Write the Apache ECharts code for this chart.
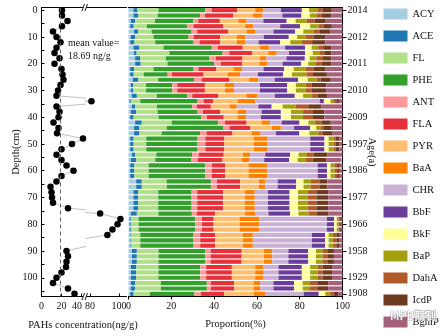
<!DOCTYPE html>
<html><head><meta charset="utf-8">
<script src="https://cdn.jsdelivr.net/npm/echarts@6/dist/echarts.min.js"></script>
<style>html,body{margin:0;padding:0;background:#fff}#c{width:448px;height:336px}</style>
</head><body><div id="c"></div>
<script>
// ---------- data ----------
const depths = [0,2,4,6,8,10,12,14,16,18,20,22,24,26,28,30,32,34,36,38,40,42,44,46,48,50,52,54,56,58,60,62,64,66,68,70,72,74,76,78,80,82,84,86,88,90,92,94,96,98,100,102,104,106];
const concentration = [20.5,20.5,26,20.5,11.5,15,19,15,13,18,
 13,20,21,22,19,16.5,15,81,15,18,
 17,12,17,15.5,41.5,30.5,20,15,20,25,
 32,20,15,9,10,10.5,11.5,26.5,87,101,
 99,95.5,92,null,null,25,26.5,25,24.5,20,
 15,11.5,26.5,33];
const meanValue = 18.69;
const depthTicks = [0,5,10,15,20,25,30,35,40,45,50,55,60,65,70,75,80,85,90,95,100,105];
const depthLabels = [0,10,20,30,40,50,60,70,80,90,100];
const lowTicks = [0,20,40];
const highTicks = [80,100];
const ageDepths = [0,10,20,30,40,50,60,70,80,90,100,106];
const ageLabels = ['2014','2012','2011','2010','2009','1997','1986','1977','1966','1958','1929','1908'];
const compounds = ['ACY','ACE','FL','PHE','ANT','FLA','PYR','BaA','CHR','BbF','BkF','BaP','DahA','IcdP','BghiP'];

const ACY = [2.3,2.3,1.1,0.8,2.6,1.1,0.8,2.3,2.6,3.1,3.1,0.8,0.8,2.0,1.1,1.1,1.6,0.5,1.6,1.1,0.8,3.1,2.6,2.6,0.8,0.8,0.8,1.6,1.1,0.8,0.8,0.8,3.6,3.6,2.3,2.3,2.3,2.3,1.1,0.5,0.5,0.5,0.8,0.8,0.8,1.6,1.6,1.6,1.1,1.1,1.1,1.1,1.1,0.8];
const ACE = [1.9,2.3,2.0,1.6,2.0,2.0,2.0,2.8,1.2,2.3,2.6,1.9,1.6,2.6,1.2,1.2,2.3,0.6,1.6,2.5,1.6,3.1,2.5,2.5,1.6,1.6,1.6,1.6,2.5,1.9,1.9,1.9,2.6,2.6,2.3,2.3,2.3,2.3,2.8,0.6,0.6,0.6,0.3,0.3,0.3,2.3,2.3,2.3,2.5,2.5,2.5,2.0,2.0,1.6];
const FL = [9.8,9.0,9.3,6.2,6.2,8.6,9.7,11.2,15.3,12.1,12.5,9.0,4.7,9.3,5.9,5.9,9.3,4.4,10.1,10.0,11.7,14.0,12.8,10.4,5.9,5.9,5.9,9.8,8.9,6.7,6.7,6.7,11.7,11.7,9.3,9.3,9.3,9.3,10.1,3.6,3.6,3.6,4.4,4.4,4.4,10.1,10.1,10.1,10.4,10.4,10.4,12.0,12.0,7.5];
const PHE = [21.8,19.8,17.9,18.7,18.7,16.4,17.9,22.6,24.9,20.2,21.8,18.7,11.2,16.7,12.3,12.3,14.3,26.8,16.4,18.7,19.8,21.8,26.5,17.9,24.0,24.0,24.0,16.7,16.7,26.5,26.5,26.5,20.6,20.6,15.6,15.6,15.6,15.6,15.6,26.5,26.5,26.5,24.9,24.9,24.9,21.8,21.8,21.8,19.5,19.5,19.5,21.5,21.5,20.9];
const ANT = [3.1,2.3,2.3,3.1,2.6,2.3,2.8,2.8,3.1,3.1,3.1,2.3,2.0,3.6,2.3,2.3,2.3,2.8,2.3,2.5,2.8,3.1,2.8,3.1,3.6,3.6,3.6,3.1,3.1,3.1,3.1,3.1,2.8,2.8,2.6,2.6,2.6,2.6,2.3,3.1,3.1,3.1,3.1,3.1,3.1,2.6,2.6,2.6,2.8,2.8,2.8,1.9,1.9,3.1];
const FLA = [12.0,13.2,10.1,14.0,14.5,12.5,9.7,11.7,10.7,12.5,10.1,8.3,14.8,12.9,12.9,12.9,12.1,4.4,6.5,8.1,7.8,10.1,9.7,12.1,8.9,8.9,8.9,11.7,11.7,6.2,6.2,6.2,10.9,10.9,12.1,12.1,12.1,12.1,8.6,5.5,5.5,5.5,7.0,7.0,7.0,14.5,14.5,14.5,12.0,12.0,12.0,10.9,10.9,10.9];
const PYR = [8.3,9.3,8.6,10.1,8.6,7.8,7.8,8.1,7.5,8.1,7.9,8.1,11.2,9.3,9.3,9.3,13.2,11.5,8.7,8.1,6.5,7.0,10.1,8.9,13.7,13.7,13.7,9.0,9.0,10.9,10.9,10.9,8.6,8.6,10.1,10.1,10.1,10.1,14.0,12.1,12.1,12.1,12.9,12.9,12.9,10.4,10.4,10.4,10.9,10.9,10.9,9.0,9.0,13.7];
const BaA = [3.9,4.4,3.9,3.9,3.9,3.9,3.9,4.2,3.9,3.1,3.7,3.9,5.9,4.2,4.4,4.4,5.0,8.3,3.4,4.0,4.0,3.9,4.2,4.2,6.5,6.5,6.5,3.4,3.4,8.6,8.6,8.6,3.1,3.1,4.7,4.7,4.7,4.7,4.7,9.3,9.3,9.3,4.7,4.7,4.7,3.9,3.9,3.9,3.9,3.9,3.9,3.1,3.1,5.5];
const CHR = [8.1,9.3,7.8,12.5,8.6,8.6,6.2,7.5,5.8,9.3,7.2,10.1,8.3,7.8,12.0,12.0,8.3,30.1,10.1,7.3,6.9,5.5,6.2,7.2,19.9,19.9,19.9,7.0,7.0,23.7,23.7,23.7,5.8,5.8,6.2,6.2,6.2,6.2,6.2,31.5,31.5,31.5,27.6,27.6,27.6,7.5,7.5,7.5,7.0,7.0,7.0,6.2,6.2,17.9];
const BbF = [9.8,8.9,10.9,9.3,10.1,11.7,10.1,9.3,7.5,8.6,8.6,9.7,11.7,10.9,12.8,12.8,9.3,1.9,6.2,8.9,9.3,8.3,7.5,10.9,6.7,6.7,6.7,11.7,11.7,4.4,4.4,4.4,8.7,8.7,10.1,10.1,10.1,10.1,10.1,3.4,3.4,3.4,6.2,6.2,6.2,9.3,9.3,9.3,10.9,10.9,10.9,9.7,9.7,7.0];
const BkF = [3.4,3.9,4.2,4.7,3.9,3.9,4.7,3.1,3.6,2.3,3.4,4.4,4.2,4.4,4.0,4.0,3.9,3.1,5.1,4.7,4.7,4.2,2.8,4.7,1.9,1.9,1.9,3.9,3.9,1.6,1.6,1.6,3.4,3.4,3.9,3.9,3.9,3.9,3.9,1.2,1.2,1.2,1.6,1.6,1.6,3.6,3.6,3.6,3.9,3.9,3.9,4.0,4.0,3.1];
const BaP = [3.9,3.1,5.1,3.9,4.7,3.9,5.5,3.1,3.4,3.1,3.6,5.5,6.7,4.2,4.5,4.5,4.2,1.6,6.2,5.6,5.6,3.1,2.2,4.2,2.3,2.3,2.3,3.9,3.9,1.9,1.9,1.9,3.4,3.4,4.7,4.7,4.7,4.7,4.7,0.8,0.8,0.8,2.0,2.0,2.0,3.1,3.1,3.1,3.6,3.6,3.6,3.1,3.1,2.3];
const DahA = [2.3,2.6,3.9,2.3,3.1,3.9,4.7,2.3,2.0,3.1,2.6,3.9,3.1,1.9,2.8,2.8,2.5,1.1,5.8,4.7,4.7,3.1,1.2,2.0,1.1,1.1,1.1,3.1,3.1,1.2,1.2,1.2,4.0,4.0,3.9,3.9,3.9,3.9,3.9,0.8,0.8,0.8,1.6,1.6,1.6,2.2,2.2,2.2,2.2,2.2,2.2,3.7,3.7,1.6];
const IcdP = [4.4,4.4,5.1,3.9,4.7,5.5,6.2,3.9,3.4,3.9,4.7,5.5,6.5,4.7,7.0,7.0,4.5,1.2,6.2,5.3,5.3,4.2,3.9,4.7,1.7,1.7,1.7,6.5,6.5,1.2,1.2,1.2,3.7,3.7,5.5,5.5,5.5,5.5,5.5,0.8,0.8,0.8,1.6,1.6,1.6,3.1,3.1,3.1,4.4,4.4,4.4,5.1,5.1,2.0];
const BghiP = [5.0,5.0,7.6,5.0,5.8,8.1,8.1,5.0,5.0,5.0,5.0,8.1,7.3,5.5,7.3,7.3,7.0,1.9,9.7,8.6,8.6,5.5,5.0,4.5,1.4,1.4,1.4,7.0,7.0,1.4,1.4,1.4,7.0,7.0,6.5,6.5,6.5,6.5,6.5,0.3,0.3,0.3,1.4,1.4,1.4,3.9,3.9,3.9,5.0,5.0,5.0,6.5,6.5,2.2];

// ---------- styling ----------
const FONT = '"Liberation Serif","Times New Roman",serif';
const palette = ['#a6cee3','#1f78b4','#b2df8a','#33a02c','#fb9a99','#e6303a','#fdbf6f','#ff7f00','#cab2d6','#6a3d9a','#ffff99','#a3a10e','#b15928','#6e3a1f','#a5617c'];
const seriesValues = [ACY,ACE,FL,PHE,ANT,FLA,PYR,BaA,CHR,BbF,BkF,BaP,DahA,IcdP,BghiP];

const points = depths.map((d,i)=>[concentration[i], d]).filter(p=>p[0]!==null);

const lbl = {fontFamily:FONT, fontSize:10, color:'#111'};
const blackLine = {show:true, onZero:false, lineStyle:{color:'#000', width:1}};
const topAxis = (g, mn, mx) => ({gridIndex:g, type:'value', min:mn, max:mx, position:'top',
  axisLine:blackLine, axisTick:{show:false}, axisLabel:{show:false}, splitLine:{show:false}});

const chart = echarts.init(document.getElementById('c'), null, {renderer:'canvas'});
chart.setOption({
  animation:false,
  backgroundColor:'#fff',
  textStyle:{fontFamily:FONT},
  grid:[
    {left:41.5, top:7.5, width:43, height:289, containLabel:false, outerBoundsMode:'none'},
    {left:85.5, top:7.5, width:41, height:289, containLabel:false, outerBoundsMode:'none'},
    {left:128.5, top:7.5, width:214, height:289, containLabel:false, outerBoundsMode:'none'}
  ],
  xAxis:[
    {gridIndex:0, type:'value', min:0, max:43, position:'bottom', axisLine:blackLine,
     axisTick:{show:true, inside:true, length:3, customValues:lowTicks, lineStyle:{color:'#000'}},
     axisLabel:Object.assign({customValues:lowTicks, margin:5,
       formatter:v => v === 40 ? '{s|40}' : String(v),
       rich:{s:{fontFamily:FONT, fontSize:10, color:'#111', padding:[0,9,0,0]}}}, lbl),
     splitLine:{show:false}},
    topAxis(0,0,43),
    {gridIndex:1, type:'value', min:76.9, max:105.2, position:'bottom', axisLine:blackLine,
     axisTick:{show:true, inside:true, length:3, customValues:highTicks, lineStyle:{color:'#000'}},
     axisLabel:Object.assign({customValues:highTicks, margin:5}, lbl), splitLine:{show:false}},
    topAxis(1,76.9,105.2),
    {gridIndex:2, type:'value', min:0, max:100, interval:20, position:'bottom', axisLine:blackLine,
     axisTick:{show:true, inside:false, length:3, lineStyle:{color:'#000'}},
     axisLabel:Object.assign({margin:5}, lbl), splitLine:{show:false},
     name:'Proportion(%)', nameLocation:'middle', nameGap:22, nameMoveOverlap:false,
     nameTextStyle:{fontFamily:FONT, fontSize:10.5, color:'#111'}},
    topAxis(2,0,100)
  ],
  yAxis:[
    {gridIndex:0, type:'value', min:-1, max:107, inverse:true, position:'left', axisLine:blackLine,
     axisTick:{show:true, inside:true, length:3, customValues:depthTicks, lineStyle:{color:'#000'}},
     axisLabel:Object.assign({customValues:depthLabels, margin:4}, lbl), splitLine:{show:false},
     name:'Depth(cm)', nameLocation:'middle', nameRotate:90, nameGap:20, nameMoveOverlap:false,
     nameTextStyle:{fontFamily:FONT, fontSize:10.5, color:'#111'}},
    {gridIndex:1, type:'value', min:-1, max:107, inverse:true, show:false},
    {gridIndex:2, type:'category', data:depths.map(String), inverse:true, show:false},
    {gridIndex:2, type:'value', min:-1, max:107, inverse:true, position:'right', axisLine:blackLine,
     axisTick:{show:true, inside:false, length:4, customValues:ageDepths, lineStyle:{color:'#000'}},
     axisLabel:Object.assign({customValues:ageDepths, margin:5,
       formatter:v=>ageLabels[ageDepths.indexOf(v)]}, lbl), splitLine:{show:false},
     name:'Age(a)', nameLocation:'middle', nameRotate:-90, nameGap:24, nameMoveOverlap:false,
     nameTextStyle:{fontFamily:FONT, fontSize:10.5, color:'#111'}}
  ],
  legend:{
    data:compounds, orient:'vertical', left:383.5, top:8.5, padding:0,
    itemWidth:24, itemHeight:11, itemGap:11, icon:'rect', selectedMode:false,
    textStyle:{fontFamily:FONT, fontSize:10.5, color:'#111', lineHeight:11}
  },
  series:[
    {type:'line', xAxisIndex:0, yAxisIndex:0, data:points, clip:true, silent:true,
     symbol:'circle', symbolSize:6.5, itemStyle:{color:'#000'},
     lineStyle:{color:'#b0b0b0', width:0.8}, z:3,
     markLine:{silent:true, symbol:'none', label:{show:false},
       lineStyle:{type:[4,3], color:'#666', width:1}, data:[{xAxis:meanValue}]}},
    {type:'line', xAxisIndex:2, yAxisIndex:1, data:points, clip:true, silent:true,
     symbol:'circle', symbolSize:6.5, itemStyle:{color:'#000'},
     lineStyle:{color:'#b0b0b0', width:0.8}, z:3}
  ].concat(compounds.map((name,k)=>({
    type:'bar', name:name, stack:'p', xAxisIndex:4, yAxisIndex:2,
    data:seriesValues[k], barCategoryGap:'22%', silent:true,
    itemStyle:{color:palette[k]}
  }))),
  graphic:[
    {type:'text', x:68, y:43.5, silent:true, style:{text:'mean value=', font:'10px '+FONT, fill:'#111', textVerticalAlign:'middle'}},
    {type:'text', x:68, y:56.5, silent:true, style:{text:'18.69 ng/g', font:'10px '+FONT, fill:'#111', textVerticalAlign:'middle'}},
    {type:'text', x:83, y:325, silent:true, style:{text:'PAHs concentration(ng/g)', font:'10.5px '+FONT, fill:'#111', textAlign:'center', textVerticalAlign:'middle'}},
    {type:'rect', shape:{x:83, y:5, width:3.5, height:5}, style:{fill:'#fff'}, silent:true, z:50},
    {type:'line', shape:{x1:82, y1:11, x2:84.5, y2:4}, style:{stroke:'#000', lineWidth:0.9}, silent:true, z:51},
    {type:'line', shape:{x1:85, y1:11, x2:87.5, y2:4}, style:{stroke:'#000', lineWidth:0.9}, silent:true, z:51},
    {type:'rect', shape:{x:83, y:294, width:3.5, height:5}, style:{fill:'#fff'}, silent:true, z:50},
    {type:'line', shape:{x1:82, y1:300, x2:84.5, y2:293}, style:{stroke:'#000', lineWidth:0.9}, silent:true, z:51},
    {type:'line', shape:{x1:85, y1:300, x2:87.5, y2:293}, style:{stroke:'#000', lineWidth:0.9}, silent:true, z:51},
    {type:'text', x:390, y:316, silent:true, z:60, style:{text:'MPB期刊', font:'bold 11px "Noto Sans CJK SC"', fill:'rgba(255,255,255,0.85)', stroke:'#8a8a8a', lineWidth:0.7, textVerticalAlign:'middle'}}
  ]
});
</script>
</body></html>
